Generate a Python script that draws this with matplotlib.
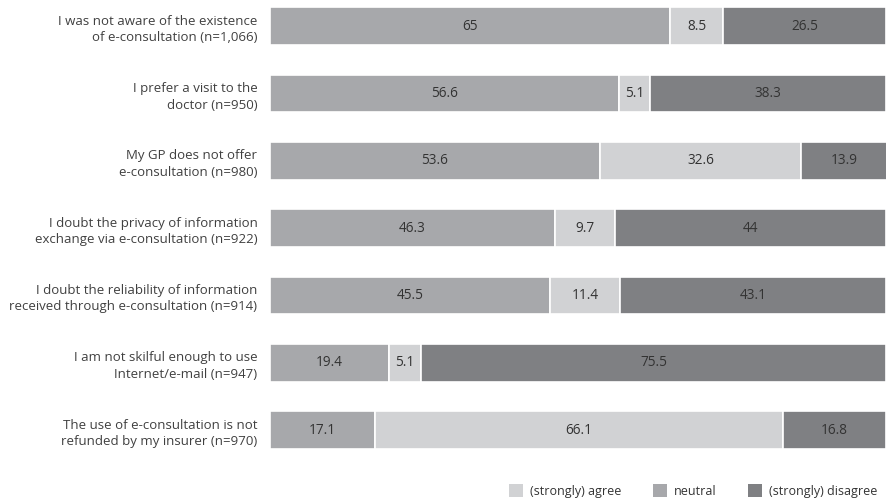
import matplotlib.pyplot as plt
from matplotlib.patches import Patch
import numpy as np

plt.rcParams['font.family'] = ['Open Sans', 'DejaVu Sans']

statements = [
    "I was not aware of the existence\nof e-consultation (n=1,066)",
    "I prefer a visit to the\ndoctor (n=950)",
    "My GP does not offer\ne-consultation (n=980)",
    "I doubt the privacy of information\nexchange via e-consultation (n=922)",
    "I doubt the reliability of information\nreceived through e-consultation (n=914)",
    "I am not skilful enough to use\nInternet/e-mail (n=947)",
    "The use of e-consultation is not\nrefunded by my insurer (n=970)",
]
agree = [65, 56.6, 53.6, 46.3, 45.5, 19.4, 17.1]
neutral = [8.5, 5.1, 32.6, 9.7, 11.4, 5.1, 66.1]
disagree = [26.5, 38.3, 13.9, 44, 43.1, 75.5, 16.8]

bar_colors = ["#a7a8ab", "#d1d2d4", "#7f8083"]
legend_labels = ["(strongly) agree", "neutral", "(strongly) disagree"]
legend_colors = ["#d1d2d4", "#a7a8ab", "#7f8083"]

fig = plt.figure(figsize=(8.86, 5.03), dpi=100)
ax = fig.add_axes([0.3047, 0.0915, 0.6953, 0.9085])

y = np.arange(len(statements))
left = np.zeros(len(statements))
for vals, col in zip([agree, neutral, disagree], bar_colors):
    vals = np.array(vals, dtype=float)
    ax.barh(y, vals, left=left, height=0.56, color=col, edgecolor="white", linewidth=1.2)
    for yi, l, v in zip(y, left, vals):
        ax.text(l + v / 2, yi, f"{v:g}", ha="center", va="center",
                fontsize=9.8, color="#333333")
    left += vals

ax.set_xlim(0, 100)
ax.set_ylim(6.4, -0.39)
ax.set_yticks(y)
ax.set_yticklabels(statements, fontsize=9.5, color="#404040", linespacing=1.35)
ax.tick_params(axis="y", length=0, pad=9)
ax.set_xticks([])
for s in ax.spines.values():
    s.set_visible(False)

handles = [Patch(facecolor=c, edgecolor="none") for c in legend_colors]
fig.legend(handles, legend_labels, loc="lower right", bbox_to_anchor=(1.003, -0.012),
           ncol=3, frameon=False, fontsize=9.0, handlelength=1.15, handleheight=1.15,
           columnspacing=2.5, handletextpad=0.55, labelcolor="#333333")

fig.savefig("out.png", dpi=100)
